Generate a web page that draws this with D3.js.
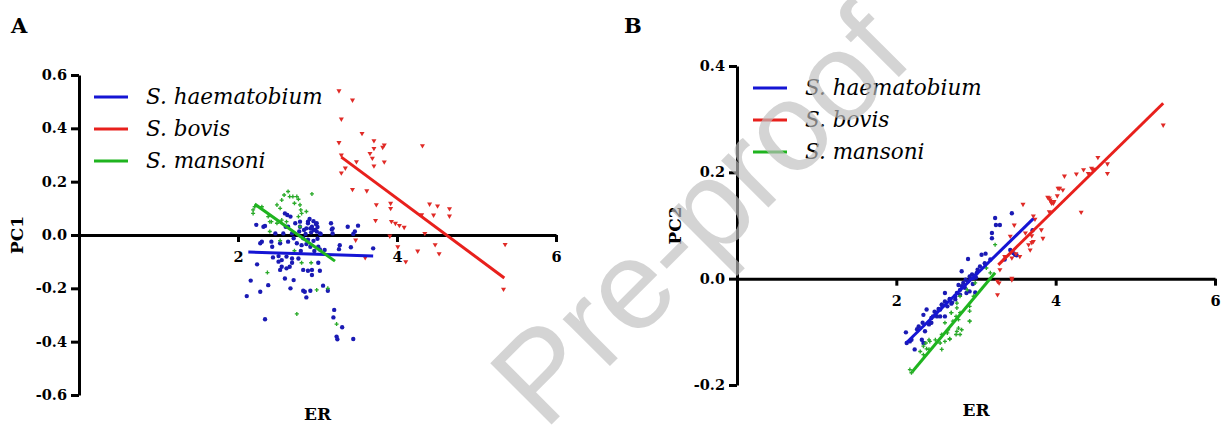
<!DOCTYPE html>
<html>
<head>
<meta charset="utf-8">
<script src="https://cdn.jsdelivr.net/npm/d3@7"></script>
<style>
  body { margin: 0; background: #fff; }
  svg { display: block; }
</style>
</head>
<body>
<div id="chart"></div>
<script>
// species order used by the legend
const species = ['haem', 'bovis', 'mansoni']
const speciesNames = ['S. haematobium', 'S. bovis', 'S. mansoni']

const xTicks = [2, 4, 6]
const yTicksA = [-0.6, -0.4, -0.2, 0.0, 0.2, 0.4, 0.6]
const yTicksB = [-0.2, 0.0, 0.2, 0.4]

// panel A : ER vs PC1  ([ER, PC1])
const haemA = [
  [2.23, 0.038], [2.32, 0.031], [2.34, 0.034], [2.59, 0.081], [2.62, 0.075], [2.66, 0.069], [2.60, 0.031],
  [2.72, 0.044], [2.78, 0.050], [2.83, 0.019], [2.86, 0.025], [2.88, 0.044], [2.93, 0.031], [2.98, 0.041],
  [2.95, 0.019], [2.99, 0.013], [3.04, 0.004], [3.17, 0.044], [3.19, 0.025], [3.38, 0.031], [3.51, 0.035],
  [3.47, 0.013], [3.45, 0.004], [2.57, 0.006], [2.47, 0.006], [2.68, 0.006], [2.77, 0.013], [2.63, 0.031],
  [2.78, 0.031], [2.88, 0.050], [2.99, 0.044], [2.91, 0.025], [2.97, 0.019], [3.03, 0.006], [3.18, 0.021],
  [3.19, 0.006], [2.90, 0.060], [2.95, 0.052], [3.00, 0.030], [2.85, 0.004], [2.92, 0.010],
  [2.30, -0.025], [2.28, -0.031], [2.42, -0.025], [2.53, -0.031], [2.63, -0.025], [2.74, -0.031], [2.80, -0.038],
  [2.86, -0.034], [2.91, -0.044], [3.01, -0.044], [3.03, -0.054], [3.09, -0.056], [3.28, -0.038], [3.27, -0.053],
  [3.42, -0.046], [3.70, -0.050], [2.43, -0.044], [2.44, -0.084], [2.51, -0.079], [2.61, -0.081], [2.68, -0.088],
  [2.55, -0.094], [2.51, -0.100], [2.55, -0.119], [2.53, -0.131], [2.61, -0.125], [2.65, -0.119], [2.68, -0.104],
  [2.76, -0.088], [2.24, -0.110], [2.82, -0.131], [2.88, -0.134], [2.93, -0.131], [3.01, -0.104], [3.03, -0.134],
  [2.93, -0.150], [2.59, -0.163], [2.70, -0.169], [2.16, -0.171], [2.38, -0.188], [2.66, -0.200], [2.28, -0.213],
  [2.82, -0.209], [2.84, -0.213], [2.91, -0.209], [2.86, -0.234], [3.07, -0.190], [3.13, -0.209], [2.11, -0.229],
  [2.34, -0.316], [3.21, -0.281], [3.20, -0.309], [3.31, -0.346], [3.24, -0.381], [3.25, -0.391], [3.45, -0.390],
  [2.82, -0.012], [2.88, -0.018], [2.95, -0.022], [3.00, -0.014], [2.70, -0.012], [2.96, -0.060], [2.79, -0.060]
]
const bovisA = [
  [3.27, 0.541], [3.44, 0.506], [3.30, 0.435], [3.56, 0.381], [3.27, 0.347], [3.71, 0.354], [3.71, 0.325],
  [3.84, 0.338], [3.82, 0.329], [3.66, 0.306], [3.30, 0.300], [3.69, 0.288], [3.49, 0.275], [3.71, 0.259],
  [3.84, 0.274], [3.35, 0.251], [3.30, 0.233], [4.32, 0.335], [3.44, 0.171], [3.62, 0.166], [3.74, 0.114],
  [3.92, 0.119], [3.92, 0.100], [4.41, 0.116], [4.51, 0.109], [4.66, 0.099], [4.66, 0.071], [4.46, 0.075],
  [4.31, 0.076], [3.73, 0.055], [3.93, 0.051], [3.98, 0.044], [4.03, 0.036], [4.09, 0.029], [3.91, -0.004],
  [4.35, 0.006], [3.48, -0.019], [4.01, -0.044], [4.26, -0.060], [4.48, -0.036], [4.53, -0.070], [4.11, -0.100],
  [3.60, -0.085], [5.36, -0.035], [5.34, -0.203]
]
const mansoniA = [
  [2.19, 0.094], [2.21, 0.106], [2.19, 0.081], [2.38, 0.069], [2.42, 0.050], [2.40, 0.013], [2.49, 0.113],
  [2.53, 0.100], [2.55, 0.131], [2.58, 0.150], [2.63, 0.163], [2.65, 0.144], [2.69, 0.144], [2.74, 0.144],
  [2.76, 0.134], [2.71, 0.119], [2.78, 0.113], [2.76, 0.069], [2.80, 0.081], [2.79, 0.094], [2.86, 0.088],
  [2.93, 0.154], [2.49, 0.044], [2.55, 0.056], [2.61, 0.050], [2.78, 0.031], [2.30, 0.106], [2.40, 0.050],
  [2.53, -0.021], [2.71, -0.059], [2.80, -0.104], [2.92, -0.104], [2.37, -0.141], [2.99, -0.206], [3.13, -0.200],
  [2.74, -0.296], [3.24, -0.334]
]

// panel B : ER vs PC2  ([ER, PC2])
const haemB = [
  [2.12, -0.101], [2.17, -0.118], [2.28, -0.090], [2.33, -0.083], [2.34, -0.068], [2.38, -0.058], [2.42, -0.083],
  [2.44, -0.074], [2.50, -0.064], [2.53, -0.057], [2.57, -0.049], [2.61, -0.043], [2.64, -0.052], [2.67, -0.038],
  [2.69, -0.047], [2.74, -0.033], [2.76, -0.027], [2.80, -0.021], [2.82, -0.014], [2.84, -0.008], [2.86, -0.017],
  [2.87, -0.002], [2.90, -0.005], [2.92, 0.004], [2.95, 0.008], [2.97, 0.001], [2.99, 0.006], [3.01, 0.011],
  [3.02, 0.017], [3.05, 0.023], [2.90, 0.037], [3.07, 0.045], [3.12, 0.047], [3.18, 0.036], [3.11, 0.029],
  [3.20, 0.076], [3.20, 0.086], [3.24, 0.114], [3.25, 0.101], [3.30, 0.101], [3.45, 0.123], [3.47, 0.048],
  [3.49, 0.045], [3.51, 0.044], [3.71, 0.091], [2.82, 0.014], [2.55, -0.071], [2.46, -0.071], [2.36, -0.099],
  [2.13, -0.121], [2.23, -0.133], [2.19, -0.115], [2.32, -0.115], [2.34, -0.121], [2.41, -0.086], [2.44, -0.083],
  [2.51, -0.071], [2.55, -0.058], [2.57, -0.049], [2.61, -0.071], [2.67, -0.039], [2.74, -0.039], [2.80, -0.030],
  [2.88, -0.027], [2.92, -0.024], [2.99, -0.026], [2.61, -0.027], [3.43, 0.054], [3.36, 0.036], [2.78, -0.012],
  [2.93, 0.000], [2.96, -0.010], [3.00, 0.002], [2.70, -0.045], [2.48, -0.062], [2.26, -0.095]
]
const bovisB = [
  [3.59, 0.140], [3.45, 0.001], [3.27, -0.005], [3.29, -0.008], [3.27, -0.030], [3.45, 0.039], [3.55, 0.042],
  [3.50, 0.047], [3.62, 0.086], [3.70, 0.081], [3.72, 0.070], [3.68, 0.054], [3.84, 0.076], [3.82, 0.092],
  [3.92, 0.152], [3.94, 0.145], [3.97, 0.142], [4.03, 0.170], [3.48, 0.101], [3.43, 0.080], [3.72, 0.118],
  [3.74, 0.112], [3.70, 0.068], [3.66, 0.064], [3.90, 0.153], [3.93, 0.148], [3.95, 0.142], [3.92, 0.126],
  [3.98, 0.145], [4.02, 0.156], [4.05, 0.170], [4.09, 0.167], [4.11, 0.193], [4.26, 0.197], [4.35, 0.205],
  [4.32, 0.125], [4.41, 0.198], [4.45, 0.208], [4.47, 0.205], [4.49, 0.206], [4.53, 0.228], [4.65, 0.216],
  [4.65, 0.198], [5.35, 0.289], [3.30, 0.017], [3.45, -0.002], [3.36, 0.042]
]
const mansoniB = [
  [3.24, 0.064], [3.13, 0.020], [3.18, 0.011], [2.99, -0.008], [2.89, -0.021], [2.97, -0.033], [2.80, -0.033],
  [2.92, -0.052], [2.76, -0.046], [2.69, -0.064], [2.80, -0.064], [2.78, -0.077], [2.61, -0.083], [2.65, -0.096],
  [2.76, -0.099], [2.80, -0.105], [2.57, -0.105], [2.67, -0.114], [2.92, -0.080], [2.42, -0.118], [2.34, -0.127],
  [2.38, -0.132], [2.69, -0.064], [2.75, -0.071], [2.78, -0.093], [2.71, -0.080], [2.64, -0.102], [2.67, -0.113],
  [2.75, -0.105], [2.82, -0.096], [2.92, -0.061], [2.92, -0.080], [2.76, -0.055], [2.61, -0.118], [2.55, -0.121],
  [2.57, -0.133], [2.49, -0.115], [2.41, -0.115], [2.37, -0.121], [2.34, -0.143], [2.30, -0.137], [2.41, -0.133],
  [2.19, -0.177], [2.17, -0.171]
]

// regression lines: [[ER start, PC start], [ER end, PC end]]
const fitsA = {
  haem: [[2.13, -0.064], [3.70, -0.079]],
  bovis: [[3.30, 0.292], [5.35, -0.161]],
  mansoni: [[2.21, 0.116], [3.22, -0.098]]
}
const fitsB = {
  haem: [[2.13, -0.120], [3.72, 0.113]],
  bovis: [[3.28, 0.026], [5.35, 0.330]],
  mansoni: [[2.20, -0.175], [3.24, 0.011]]
}

const COLORS = { haem: '#1515d4', bovis: '#e8201c', mansoni: '#1fb41f' }
const DOTS = { haem: '#1a1ab4', bovis: '#e02a26', mansoni: '#2aaa2a' }
const SERIF = "'DejaVu Serif', serif"

const panels = [
  {
    label: 'A', yTitle: 'PC1', yTicks: yTicksA, yDomain: [-0.6, 0.6],
    xRange: [79, 556], yRange: [395, 75],
    points: { haem: haemA, bovis: bovisA, mansoni: mansoniA }, fits: fitsA,
    labelPos: [11, 33], legend: { x: 94, y: 97 }, yTitleX: 17, xTitleY: 420
  },
  {
    label: 'B', yTitle: 'PC2', yTicks: yTicksB, yDomain: [-0.2, 0.4],
    xRange: [737, 1215], yRange: [385, 66],
    points: { haem: haemB, bovis: bovisB, mansoni: mansoniB }, fits: fitsB,
    labelPos: [624, 33], legend: { x: 753, y: 88 }, yTitleX: 675, xTitleY: 416
  }
]

const svg = d3.select('#chart').append('svg')
  .attr('width', 1221)
  .attr('height', 433)

const marker = {
  haem: d3.symbol().type(d3.symbolCircle).size(15),
  bovis: d3.symbol().type(d3.symbolTriangle).size(11),
  mansoni: d3.symbol().type(d3.symbolCross).size(9)
}

function drawPanel(p) {
  const x = d3.scaleLinear().domain([0, 6]).range(p.xRange)
  const y = d3.scaleLinear().domain(p.yDomain).range(p.yRange)
  const g = svg.append('g')

  // x axis sits on y = 0
  g.append('g')
    .attr('transform', `translate(0, ${y(0)})`)
    .call(d3.axisBottom(x).tickValues(xTicks).tickSize(7).tickSizeOuter(0).tickPadding(10).tickFormat(d3.format('d')))
    .call(ax => ax.selectAll('path, line').attr('stroke', '#000').attr('stroke-width', 3))
    .call(ax => ax.selectAll('text').attr('fill', '#000'))
    .attr('font-family', SERIF).attr('font-weight', 'bold').attr('font-size', 14.5)

  g.append('g')
    .attr('transform', `translate(${x(0)}, 0)`)
    .call(d3.axisLeft(y).tickValues(p.yTicks).tickSize(8).tickSizeOuter(0).tickPadding(4).tickFormat(d => d.toFixed(1)))
    .call(ax => ax.selectAll('path, line').attr('stroke', '#000').attr('stroke-width', 3))
    .call(ax => ax.selectAll('text').attr('fill', '#000'))
    .attr('font-family', SERIF).attr('font-weight', 'bold').attr('font-size', 14.5)

  // scatter
  species.forEach(s => {
    g.append('g').selectAll('path')
      .data(p.points[s])
      .join('path')
      .attr('d', marker[s])
      .attr('transform', d => `translate(${x(d[0])}, ${y(d[1])})` + (s === 'bovis' ? ' rotate(180)' : ''))
      .attr('fill', DOTS[s])
  })

  // fitted lines
  const line = d3.line().x(d => x(d[0])).y(d => y(d[1]))
  species.forEach(s => {
    g.append('path')
      .attr('d', line(p.fits[s]))
      .attr('fill', 'none')
      .attr('stroke', COLORS[s])
      .attr('stroke-width', 3)
  })

  // legend
  const leg = g.append('g').attr('transform', `translate(${p.legend.x}, ${p.legend.y})`)
  species.forEach((s, i) => {
    leg.append('line')
      .attr('x1', 0).attr('x2', 34)
      .attr('y1', i * 32).attr('y2', i * 32)
      .attr('stroke', COLORS[s]).attr('stroke-width', 3)
    leg.append('text')
      .attr('x', 52).attr('y', i * 32 + 7)
      .attr('font-family', SERIF).attr('font-style', 'italic').attr('font-size', 21.5)
      .text(speciesNames[i])
  })

  // titles
  g.append('text')
    .attr('x', (p.xRange[0] + p.xRange[1]) / 2).attr('y', p.xTitleY)
    .attr('text-anchor', 'middle')
    .attr('font-family', SERIF).attr('font-weight', 'bold').attr('font-size', 17)
    .text('ER')
  g.append('text')
    .attr('transform', `translate(${p.yTitleX + 6}, ${(p.yRange[0] + p.yRange[1]) / 2}) rotate(-90)`)
    .attr('text-anchor', 'middle')
    .attr('font-family', SERIF).attr('font-weight', 'bold').attr('font-size', 17)
    .text(p.yTitle)
  g.append('text')
    .attr('x', p.labelPos[0]).attr('y', p.labelPos[1])
    .attr('font-family', SERIF).attr('font-weight', 'bold').attr('font-size', 21)
    .text(p.label)
}

panels.forEach(drawPanel)

// watermark over everything
svg.append('text')
  .attr('transform', 'translate(730, 246) rotate(-45)')
  .attr('text-anchor', 'middle')
  .attr('font-family', "'Liberation Sans', sans-serif")
  .attr('font-size', 126)
  .attr('fill', '#bdbdbd')
  .attr('fill-opacity', 0.66)
  .text('Pre-proof')
</script>
</body>
</html>
